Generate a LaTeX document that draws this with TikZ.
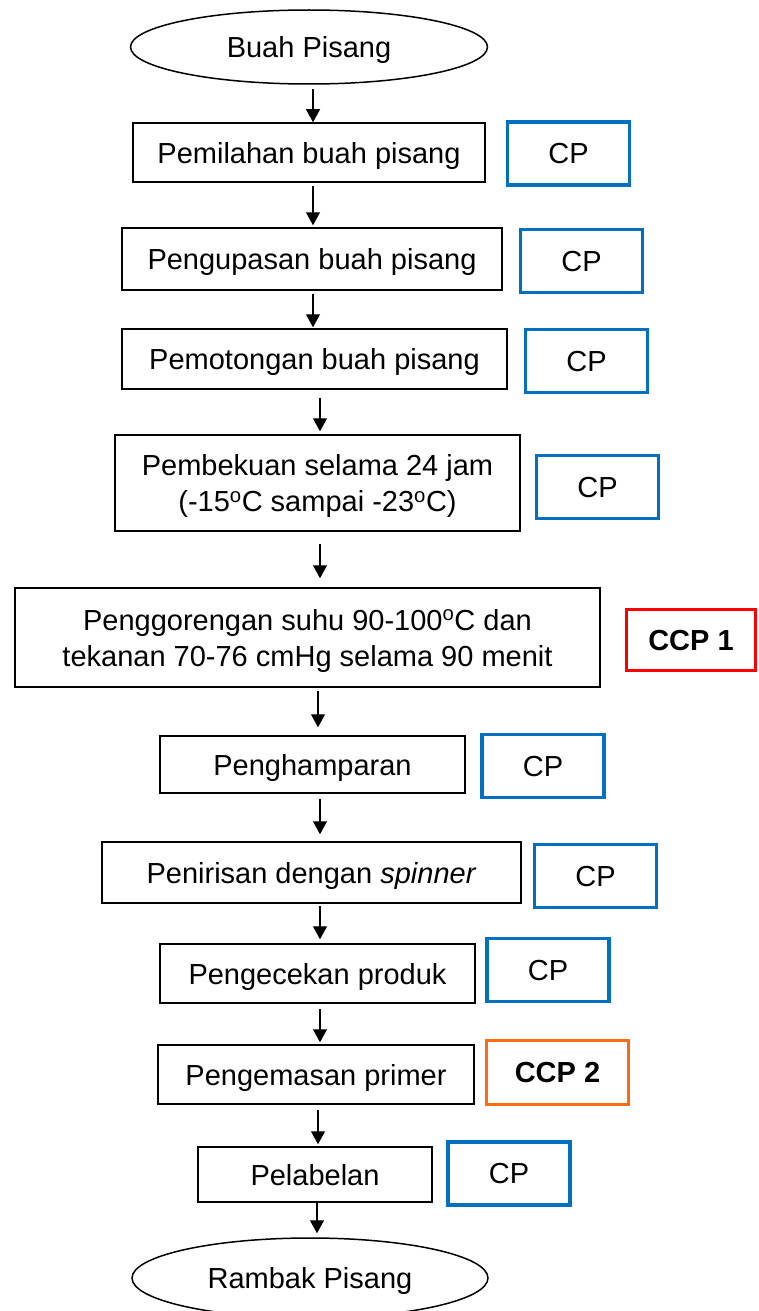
\documentclass[tikz,border=0pt]{standalone}
\usepackage{fontspec}
\setmainfont{Liberation Sans}
\usetikzlibrary{arrows.meta,shapes.geometric}

\definecolor{cpblue}{RGB}{0,112,192}
\definecolor{ccpred}{RGB}{255,0,0}
\definecolor{ccporange}{RGB}{250,108,20}

\begin{document}
\begin{tikzpicture}[x=1pt, y=-1pt,
  every node/.style={font=\fontsize{29}{36}\selectfont, align=center, inner sep=0pt, text depth=0pt},
  terminal/.style={draw, ellipse, line width=1.5pt},
  stepbox/.style={draw, rectangle, line width=1.5pt},
  cpbox/.style={draw=cpblue, line width=3.5pt, minimum width=122pt, minimum height=63pt},
  ccpbox/.style={line width=3.5pt, font=\fontsize{29}{36}\selectfont\bfseries},
  flow/.style={-{Triangle[width=14pt,length=13pt]}, line width=1.2pt}]
  \useasboundingbox (0,0) rectangle (759,1311);

  % process steps
  \node[terminal, minimum width=357pt, minimum height=74pt] (start) at (309,47) {Buah Pisang};
  \node[stepbox, minimum width=352pt, minimum height=59pt] (s1) at (309,152.5) {Pemilahan buah pisang};
  \node[stepbox, minimum width=380pt, minimum height=62pt] (s2) at (312,259) {Pengupasan buah pisang};
  \node[stepbox, minimum width=385pt, minimum height=60pt] (s3) at (314.5,359) {Pemotongan buah pisang};
  \node[stepbox, minimum width=405pt, minimum height=96pt] (s4) at (317.5,483)
    {Pembekuan selama 24 jam\\(-15\textsuperscript{o}C sampai -23\textsuperscript{o}C)};
  \node[stepbox, minimum width=585pt, minimum height=99pt] (s5) at (307.5,637.5)
    {Penggorengan suhu 90-100\textsuperscript{o}C dan\\tekanan 70-76 cmHg selama 90 menit};
  \node[stepbox, minimum width=305pt, minimum height=57pt] (s6) at (312.5,764.5) {Penghamparan};
  \node[stepbox, minimum width=419pt, minimum height=61pt] (s7) at (311.5,872.5) {Penirisan dengan \textit{spinner}};
  \node[stepbox, minimum width=315pt, minimum height=59pt] (s8) at (317.5,973.5) {Pengecekan produk};
  \node[stepbox, minimum width=316pt, minimum height=59pt] (s9) at (316,1074.5) {Pengemasan primer};
  \node[stepbox, minimum width=234pt, minimum height=55pt] (s10) at (315,1174.5) {Pelabelan};
  \node[terminal, minimum width=356pt, minimum height=80pt] (finish) at (310,1278) {Rambak Pisang};

  % control points
  \node[cpbox] (cp1) at (568.5,153.5) {CP};
  \node[cpbox] (cp2) at (581.5,261) {CP};
  \node[cpbox] (cp3) at (586.5,361) {CP};
  \node[cpbox] (cp4) at (597.5,487) {CP};
  \node[ccpbox, draw=ccpred, minimum width=129pt, minimum height=61pt] (ccp1) at (691,640) {CCP 1};
  \node[cpbox] (cp6) at (543,766) {CP};
  \node[cpbox] (cp7) at (595.5,876) {CP};
  \node[cpbox] (cp8) at (548,970) {CP};
  \node[ccpbox, draw=ccporange, minimum width=142pt, minimum height=64pt] (ccp2) at (557.5,1072.5) {CCP 2};
  \node[cpbox] (cp10) at (509,1173.5) {CP};

  % arrows
  \foreach \a/\b/\x/\s/\e in {start/s1/313/4/0, s1/s2/313/3/2, s2/s3/313/3/1,
      s3/s4/320/8/3, s4/s5/320/12/9, s5/s6/318/3/8, s6/s7/320/5/7,
      s7/s8/320/2/4, s8/s9/320/5/2, s9/s10/318/5/2, s10/finish/317/0/4}
    \draw[flow, shorten <=\s pt, shorten >=\e pt] (\a.south -| \x,0) -- (\b.north -| \x,0);
\end{tikzpicture}
\end{document}
